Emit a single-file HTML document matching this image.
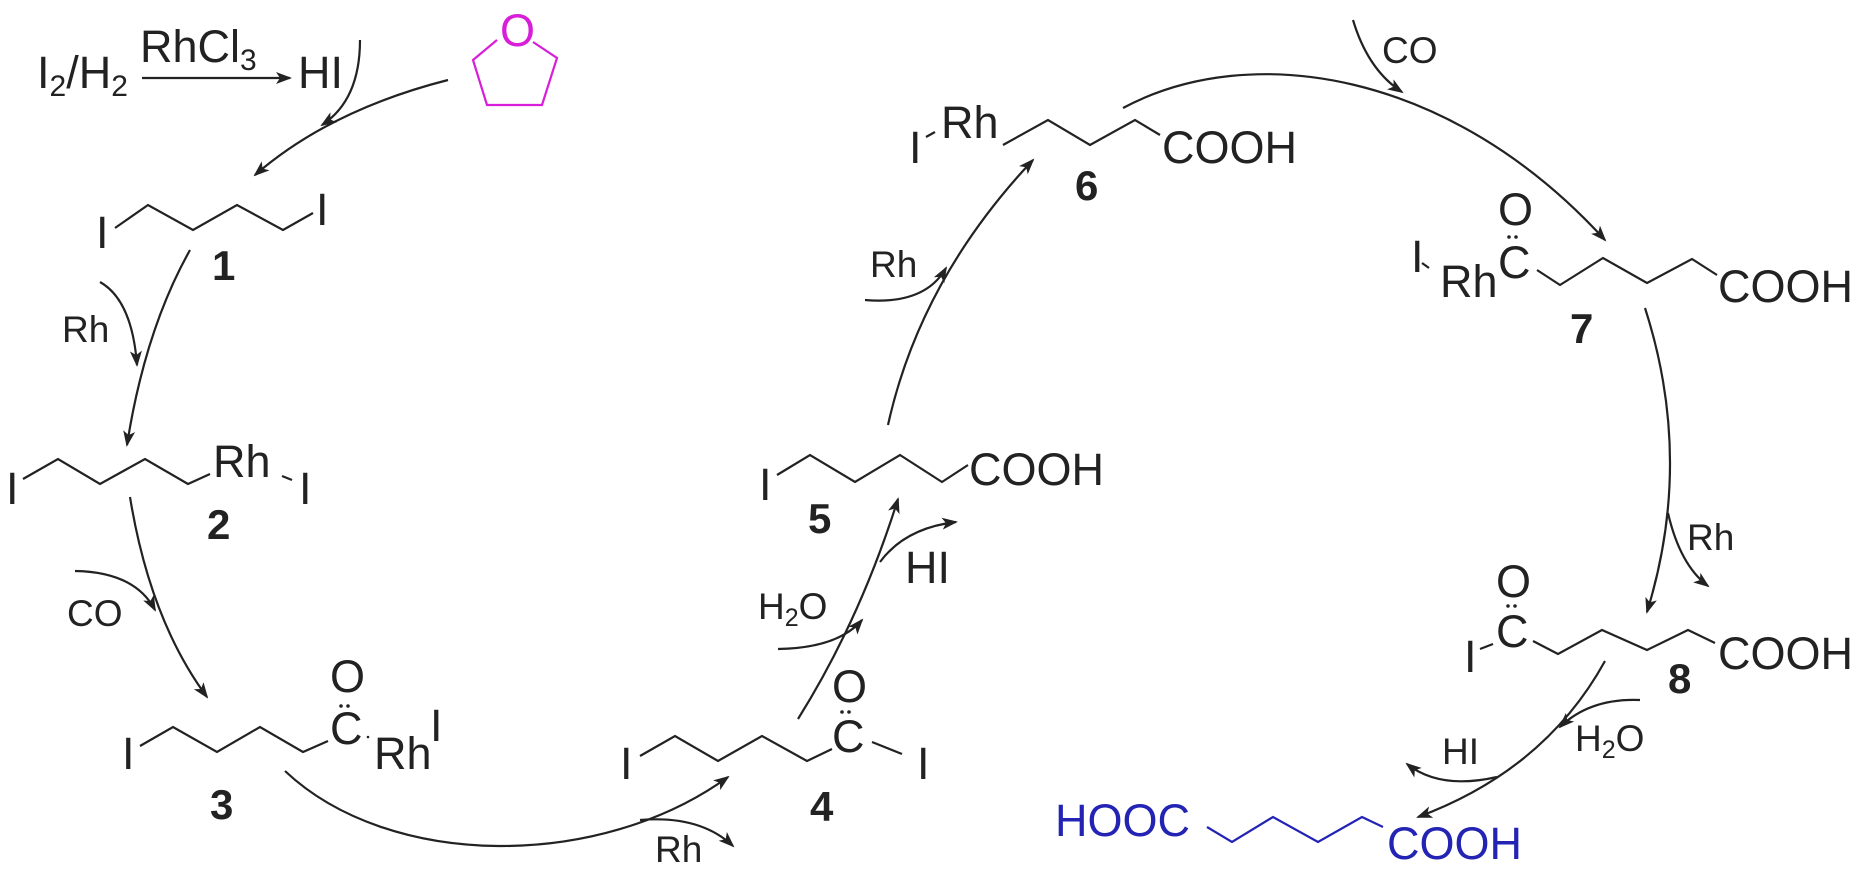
<!DOCTYPE html>
<html><head><meta charset="utf-8"><style>
html,body{margin:0;padding:0;background:#fff;}
svg{display:block;}
text{font-family:"Liberation Sans",Arial,sans-serif;fill:#222;}
.b{font-size:45px;}
.s{font-size:37px;}
.n{font-size:42px;font-weight:bold;}
.l{fill:none;stroke:#222;stroke-width:2.2;}
.a{fill:none;stroke:#222;stroke-width:2.2;marker-end:url(#ah);}
</style></head><body>
<svg width="1875" height="884" viewBox="0 0 1875 884" xmlns="http://www.w3.org/2000/svg">
<defs>
<marker id="ah" markerUnits="userSpaceOnUse" markerWidth="16" markerHeight="12" refX="14" refY="6" orient="auto">
<path d="M0,0 L16,6 L0,12 L4,6 z" fill="#222"/>
</marker>
</defs>

<!-- top-left HI generation -->
<text class="b" x="37" y="88">I<tspan font-size="30" dy="8">2</tspan><tspan dy="-8">/H</tspan><tspan font-size="30" dy="8">2</tspan></text>
<text class="b" x="140" y="62">RhCl<tspan font-size="30" dy="8">3</tspan></text>
<path class="a" d="M142,78 L290,78"/>
<text class="b" x="298" y="88">HI</text>

<!-- THF -->
<text x="500" y="46" style="font-size:45px;fill:#d81ed8">O</text>
<path d="M533,42 L557,58 L542,105 L487,105 L473,60 L497,40" fill="none" stroke="#d81ed8" stroke-width="2.2"/>

<!-- arrows to 1 -->
<path class="a" d="M448,80 Q330,110 255,175"/>
<path class="a" d="M360,40 Q360,100 322,125"/>

<!-- compound 1 -->
<text class="b" x="96" y="248">I</text>
<polyline class="l" points="115,228 148,205 193,230 237,205 283,230 313,213"/>
<text class="b" x="316" y="225">I</text>
<text class="n" x="212" y="280">1</text>

<!-- 1 -> 2 -->
<path class="a" d="M190,250 Q145,330 127,445"/>
<path class="a" d="M100,282 Q132,300 137,365"/>
<text class="s" x="62" y="342">Rh</text>

<!-- compound 2 -->
<text class="b" x="6" y="504">I</text>
<polyline class="l" points="23,479 58,459 100,484 145,459 188,484 210,474"/>
<text class="b" x="213" y="477">Rh</text>
<line class="l" x1="282" y1="476" x2="292" y2="480"/>
<text class="b" x="299" y="504">I</text>
<text class="n" x="207" y="539">2</text>

<!-- 2 -> 3 -->
<path class="a" d="M130,497 Q150,620 207,697"/>
<path class="a" d="M75,571 Q135,572 155,610"/>
<text class="s" x="67" y="626">CO</text>

<!-- compound 3 -->
<text class="b" x="122" y="769">I</text>
<polyline class="l" points="140,746 173,727 217,752 260,727 303,752 328,741"/>
<text class="b" x="330" y="744">C</text>
<circle cx="341" cy="706" r="1.8" fill="#222"/><circle cx="348" cy="706" r="1.8" fill="#222"/>
<text class="b" x="330" y="692">O</text>
<circle cx="368" cy="737" r="1.3" fill="#222"/>
<text class="b" x="374" y="769">Rh</text>
<text class="b" x="430" y="741">I</text>
<text class="n" x="210" y="819">3</text>

<!-- 3 -> 4 -->
<path class="a" d="M285,771 C390,870 600,870 728,777"/>
<path class="a" d="M640,820 Q700,815 733,846"/>
<text class="s" x="655" y="862">Rh</text>

<!-- compound 4 -->
<text class="b" x="620" y="779">I</text>
<polyline class="l" points="640,756 675,736 718,761 762,736 807,761 832,749"/>
<text class="b" x="832" y="752">C</text>
<circle cx="842" cy="712" r="1.8" fill="#222"/><circle cx="849" cy="712" r="1.8" fill="#222"/>
<text class="b" x="832" y="702">O</text>
<line class="l" x1="872" y1="742" x2="902" y2="754"/>
<text class="b" x="917" y="779">I</text>
<text class="n" x="810" y="821">4</text>

<!-- 4 -> 5 -->
<path class="a" d="M798,719 Q860,620 898,499"/>
<path class="a" d="M778,649 Q838,648 862,620"/>
<text class="s" x="758" y="619">H<tspan font-size="25" dy="7">2</tspan><tspan dy="-7">O</tspan></text>
<path class="a" d="M880,562 Q905,528 956,522"/>
<text class="b" x="905" y="583">HI</text>

<!-- compound 5 -->
<text class="b" x="759" y="500">I</text>
<polyline class="l" points="777,475 810,455 855,482 900,455 942,482 968,465"/>
<text class="b" x="969" y="485">COOH</text>
<text class="n" x="808" y="533">5</text>

<!-- 5 -> 6 -->
<path class="a" d="M888,425 Q920,280 1033,160"/>
<path class="a" d="M865,300 Q925,305 946,268"/>
<text class="s" x="870" y="277">Rh</text>

<!-- compound 6 -->
<text class="b" x="909" y="163">I</text>
<line class="l" x1="926" y1="137" x2="935" y2="132"/>
<text class="b" x="941" y="138">Rh</text>
<polyline class="l" points="1003,145 1048,120 1090,145 1135,120 1160,135"/>
<text class="b" x="1162" y="163">COOH</text>
<text class="n" x="1075" y="200">6</text>

<!-- 6 -> 7 -->
<path class="a" d="M1123,108 C1250,40 1450,70 1605,240"/>
<path class="a" d="M1353,20 Q1368,70 1402,92"/>
<text class="s" x="1382" y="63">CO</text>

<!-- compound 7 -->
<text class="b" x="1411" y="272">I</text>
<line class="l" x1="1422" y1="263" x2="1429" y2="268"/>
<text class="b" x="1440" y="297">Rh</text>
<text class="b" x="1498" y="278">C</text>
<circle cx="1509" cy="237" r="1.8" fill="#222"/><circle cx="1516" cy="237" r="1.8" fill="#222"/>
<text class="b" x="1498" y="225">O</text>
<polyline class="l" points="1537,270 1560,285 1603,258 1647,283 1692,259 1717,275"/>
<text class="b" x="1718" y="302">COOH</text>
<text class="n" x="1570" y="343">7</text>

<!-- 7 -> 8 -->
<path class="a" d="M1645,308 Q1694,460 1647,612"/>
<path class="a" d="M1668,513 Q1680,565 1708,586"/>
<text class="s" x="1687" y="550">Rh</text>

<!-- compound 8 -->
<text class="b" x="1496" y="597">O</text>
<circle cx="1508" cy="606" r="1.8" fill="#222"/><circle cx="1515" cy="606" r="1.8" fill="#222"/>
<text class="b" x="1496" y="647">C</text>
<text class="b" x="1464" y="672">I</text>
<line class="l" x1="1480" y1="649" x2="1493" y2="644"/>
<polyline class="l" points="1533,641 1558,654 1602,630 1647,650 1688,630 1715,643"/>
<text class="b" x="1718" y="669">COOH</text>
<text class="n" x="1668" y="693">8</text>

<!-- 8 -> product -->
<path class="a" d="M1605,661 Q1545,770 1418,817"/>
<path class="a" d="M1640,700 Q1590,698 1560,727"/>
<text class="s" x="1575" y="751">H<tspan font-size="25" dy="7">2</tspan><tspan dy="-7">O</tspan></text>
<path class="a" d="M1497,777 Q1440,790 1407,764"/>
<text class="s" x="1442" y="764">HI</text>

<!-- product adipic acid -->
<text class="b" x="1055" y="836" style="fill:#2323b4">HOOC</text>
<polyline points="1207,827 1232,842 1273,817 1318,842 1362,817 1383,827" fill="none" stroke="#2323b4" stroke-width="2.2"/>
<text class="b" x="1387" y="859" style="fill:#2323b4">COOH</text>
</svg>
</body></html>
